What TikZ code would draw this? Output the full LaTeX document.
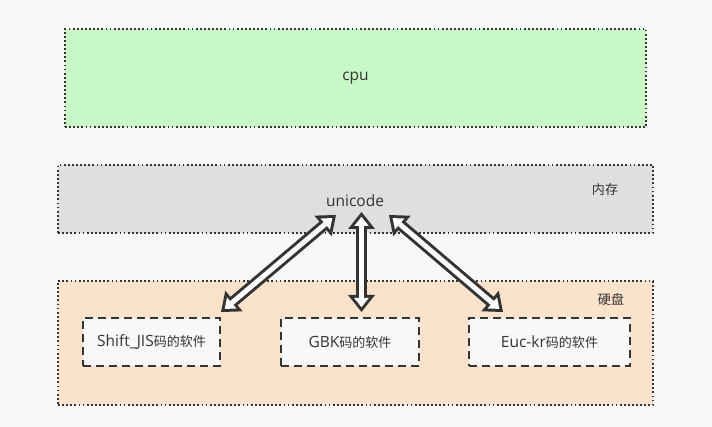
\documentclass[tikz,border=0pt]{standalone}
\usepackage{fontspec}
\usepackage{tikz}
\usepackage{xcolor}
\usetikzlibrary{arrows.meta}
\setmainfont{Open Sans}
\newfontfamily\cjk[Scale=0.84]{Noto Sans CJK SC}

\definecolor{bgpaper}{HTML}{F8F8F8}
\definecolor{cpugreen}{HTML}{C8F8C6}
\definecolor{memgray}{HTML}{DFDFDF}
\definecolor{diskpeach}{HTML}{FBE2CB}
\definecolor{inkgray}{HTML}{333333}

\tikzset{
  layer/.style={draw=inkgray, line width=1.8pt, dash pattern=on 1.8pt off 2.3pt, minimum width=#1},
  softbox/.style={draw=inkgray, line width=1.8pt, dash pattern=on 8pt off 5pt, fill=bgpaper, minimum height=48pt, minimum width=#1},
  % hollow arrow: dark body first, white core on top
  hollowout/.style={inkgray, line width=11pt,
    {Triangle[length=17pt, width=27pt, line width=0pt]}-{Triangle[length=17pt, width=27pt, line width=0pt]}},
  hollowin/.style={white, line width=5pt, shorten <=4.8pt, shorten >=4.8pt,
    {Triangle[length=9.2pt, width=14.6pt, line width=0pt]}-{Triangle[length=9.2pt, width=14.6pt, line width=0pt]}},
  every node/.style={text=inkgray, font=\fontsize{15.5}{18}\selectfont}
}

\begin{document}
\begin{tikzpicture}[x=1pt, y=-1pt]
\useasboundingbox[fill=bgpaper] (0,0) rectangle (712,427);

\node (cpu) at (355.5,78) [layer=581pt, minimum height=98pt, fill=cpugreen] {cpu};
\node (mem) at (355.5,199) [layer=595pt, minimum height=68pt, fill=memgray] {};
\node (disk) at (355.5,343) [layer=595pt, minimum height=124pt, fill=diskpeach] {};

\node (uni) at (355,201) {unicode};
\node (memlabel) at (605,190) {\cjk 内存};
\node (disklabel) at (611,300) {\cjk 硬盘};

\node (sj) at (151.5,342) [softbox=137pt] {Shift\_JIS{\cjk 码的软件}};
\node (gbk) at (350,342) [softbox=138pt] {GBK{\cjk 码的软件}};
\node (euc) at (549.5,342) [softbox=161pt] {Euc-kr{\cjk 码的软件}};

\coordinate (lt) at (336,215);
\coordinate (lb) at (221,312);
\coordinate (mt) at (361.5,212);
\coordinate (mb) at (361.5,312);
\coordinate (rt) at (389,215);
\coordinate (rb) at (503,312);

\foreach \a/\b in {lt/lb, mt/mb, rt/rb} {
    \draw[hollowout] (\a) -- (\b);
    \draw[hollowin] (\a) -- (\b);
}
\end{tikzpicture}
\end{document}
